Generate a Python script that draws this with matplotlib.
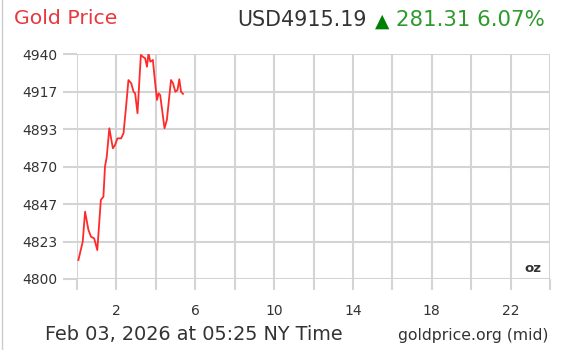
import matplotlib.pyplot as plt
import numpy as np

# gold price, hours since midnight NY time, USD/oz
hours = [0.07, 0.29, 0.41, 0.58, 0.71, 0.87, 1.03, 1.21, 1.34, 1.42, 1.51, 1.64,
         1.82, 1.93, 2.05, 2.24, 2.36, 2.49, 2.61, 2.75, 2.87, 2.95, 3.07, 3.24,
         3.34, 3.46, 3.55, 3.63, 3.72, 3.85, 3.95, 4.06, 4.14, 4.22, 4.44, 4.56,
         4.77, 4.87, 4.99, 5.10, 5.19, 5.28, 5.38]
price = [4811.8, 4823.2, 4841.9, 4830.5, 4826.3, 4825.3, 4818.0, 4849.2, 4851.2,
         4869.9, 4876.1, 4893.8, 4881.3, 4883.4, 4887.5, 4887.5, 4890.7, 4907.2,
         4923.8, 4921.8, 4916.5, 4915.5, 4903.1, 4939.4, 4938.3, 4937.3, 4932.1,
         4940.4, 4935.2, 4936.3, 4923.8, 4911.4, 4915.5, 4914.5, 4893.8, 4899.0,
         4923.8, 4921.8, 4916.5, 4917.6, 4924.3, 4916.5, 4915.19]

yticks = [4800, 4823, 4847, 4870, 4893, 4917, 4940]
xticks = list(range(0, 25, 2))
xlabels = ['2', '6', '10', '14', '18', '22']

grid_col = '#d4d4d4'
txt_col = '#333333'

fig = plt.figure(figsize=(5.61, 3.5), dpi=100)
ax = fig.add_axes([77/561, 1 - 279/350, 473/561, 225/350])

ax.plot(hours, price, color='#ff2a2a', linewidth=1.3)

ax.set_xlim(0, 24)
ax.set_ylim(4800, 4940)
ax.set_yticks(np.linspace(4800, 4940, 7))
ax.set_yticklabels([str(v) for v in yticks])
ax.set_xticks(xticks)
ax.set_xticklabels([str(t) if str(t) in xlabels else '' for t in xticks])

ax.grid(True, color=grid_col, linewidth=1.5)
for s in ax.spines.values():
    s.set_visible(False)
ax.tick_params(axis='y', length=10, width=1.5, color=grid_col, pad=4,
               labelsize=10, labelcolor=txt_col)
ax.tick_params(axis='x', length=8, width=1.5, color=grid_col, pad=10,
               labelsize=10, labelcolor=txt_col)

ax.text(0.981, 0.018, 'oz', transform=ax.transAxes, ha='right', va='bottom',
        fontsize=9.5, fontweight='bold', color=txt_col)

# header
fig.text(14/561, 1 - 23.5/350, 'Gold Price', color='#e8383d', fontsize=14.7,
         ha='left', va='baseline')
fig.text(237/561, 1 - 26.5/350, 'USD4915.19', color=txt_col, fontsize=14.9,
         ha='left', va='baseline')
fig.text(382/561, 1 - 26.5/350, '\u25b2', color='#008000', fontsize=13.5,
         ha='center', va='baseline')
fig.text(545/561, 1 - 26.5/350, '281.31 6.07%', color='#2e9a2e', fontsize=15.3,
         ha='right', va='baseline')

# footer
fig.text(45/561, 1 - 340.5/350, 'Feb 03, 2026 at 05:25 NY Time', color=txt_col,
         fontsize=13.9, ha='left', va='baseline')
fig.text(548/561, 1 - 340/350, 'goldprice.org (mid)', color=txt_col,
         fontsize=11.3, ha='right', va='baseline')

# thin frame line on the left
fig.add_artist(plt.Line2D([2/561, 2/561], [0, 1], transform=fig.transFigure,
                          color='#cccccc', linewidth=1))

plt.savefig('out.png', dpi=100)
